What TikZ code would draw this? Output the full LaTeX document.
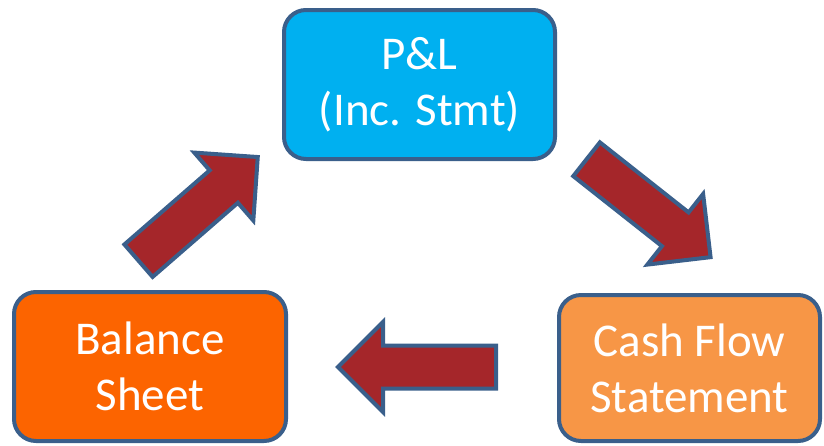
\documentclass[tikz,border=0pt]{standalone}
\usepackage{fontspec}
\setmainfont{Carlito}
\usetikzlibrary{shapes.arrows}

\definecolor{edgeblue}{HTML}{3A5F8B}
\definecolor{plblue}{HTML}{00B0F0}
\definecolor{bsorange}{HTML}{FC6400}
\definecolor{cforange}{HTML}{F79646}
\definecolor{arrowred}{HTML}{A5262A}

\tikzset{
  stmtbox/.style={draw=edgeblue, line width=4pt, rounded corners=22pt,
    rectangle, inner sep=0pt, text=white, align=center,
    font=\fontsize{47}{56}\selectfont},
  flowarrow/.style={single arrow, draw=edgeblue, fill=arrowred,
    line width=4pt, inner xsep=0pt, inner ysep=19.5pt,
    single arrow head extend=23.5pt, minimum height=158pt,
    anchor=tail},
}

\begin{document}
\begin{tikzpicture}[x=1pt, y={(0pt,-1pt)}]
  \useasboundingbox (0,0) rectangle (824,445);

  % the three statements
  \node[stmtbox, fill=plblue, minimum width=271pt, minimum height=149pt]
    (pl) at (419.5,84.5) {P\&L\\(Inc. Stmt)};
  \node[stmtbox, fill=bsorange, minimum width=272pt, minimum height=149pt]
    (bs) at (150,366.5) {Balance\\Sheet};
  \node[stmtbox, fill=cforange, minimum width=261pt, minimum height=146pt]
    (cf) at (689.5,368) {Cash Flow\\Statement};

  % block arrows running round the cycle
  \node[flowarrow, rotate=-38.3] (pl2cf) at (585,158) {};
  \node[flowarrow, rotate=180] (cf2bs) at (498,367) {};
  \node[flowarrow, rotate=41] (bs2pl) at (137,262) {};
\end{tikzpicture}
\end{document}
